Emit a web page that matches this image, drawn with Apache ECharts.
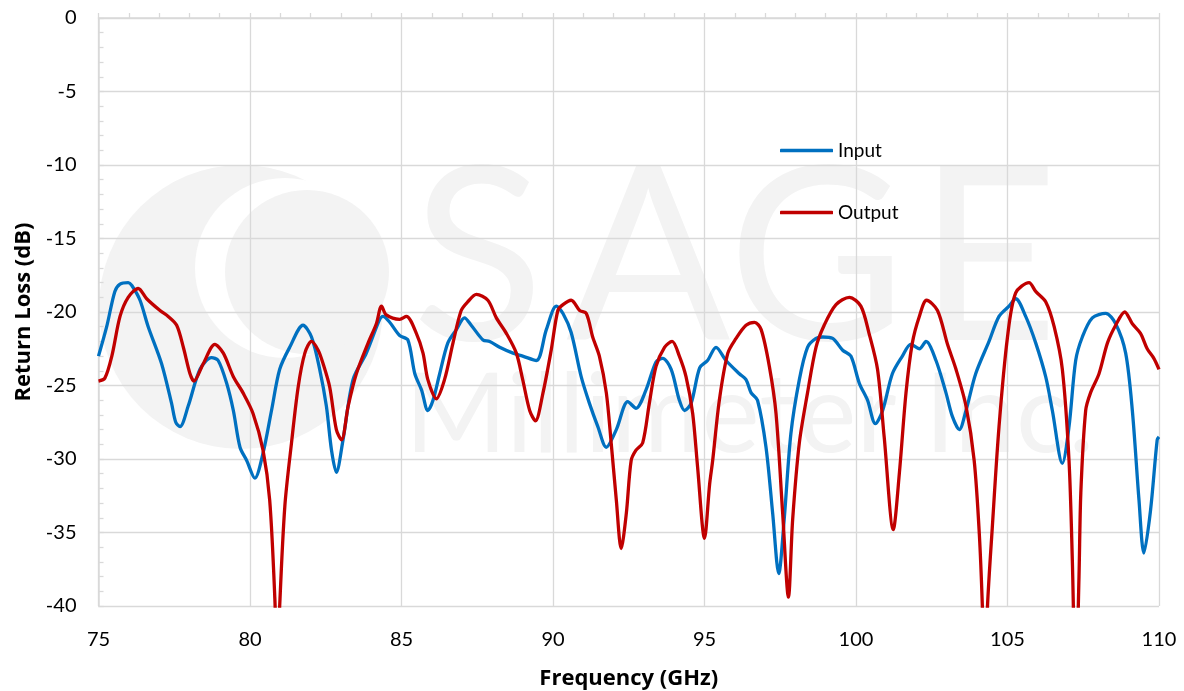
<!DOCTYPE html>
<html>
<head>
<meta charset="utf-8">
<script src="https://cdn.jsdelivr.net/npm/echarts@6/dist/echarts.min.js"></script>
<style>
html,body{margin:0;padding:0;background:#fff;}
#chart{width:1184px;height:691px;}
</style>
</head>
<body>
<div id="chart"></div>
<script>
// ---- Data ----
const xTicks = [75, 80, 85, 90, 95, 100, 105, 110];
const yTicks = [0, -5, -10, -15, -20, -25, -30, -35, -40];

const inputFreq = [75.0,75.27,75.54,75.71,75.98,76.1,76.37,76.64,77.08,77.41,77.55,77.69,77.96,78.35,78.73,78.95,79.23,79.45,79.67,79.89,80.16,80.43,80.71,80.98,81.31,81.75,82.03,82.3,82.52,82.69,82.85,83.07,83.4,83.84,84.28,84.39,84.61,84.94,85.21,85.44,85.66,85.87,86.04,86.26,86.53,86.81,87.08,87.3,87.69,87.91,88.24,88.68,89.0,89.45,89.78,90.11,90.33,90.6,90.93,91.2,91.48,91.76,92.09,92.47,92.74,93.07,93.4,93.62,93.9,94.17,94.34,94.56,94.84,95.1,95.38,95.71,96.15,96.37,96.54,96.75,97.03,97.25,97.45,97.63,97.85,98.13,98.4,98.68,98.9,99.23,99.56,99.83,100.11,100.38,100.64,100.88,101.2,101.53,101.81,102.09,102.31,102.64,102.97,103.18,103.41,103.63,103.95,104.39,104.72,105.05,105.27,105.6,105.93,106.26,106.48,106.81,107.03,107.25,107.47,107.8,108.24,108.57,108.9,109.12,109.34,109.5,109.72,109.94,110.0];
const inputLoss = [-23.0,-21.0,-18.6,-18.1,-18.0,-18.2,-19.2,-21.0,-23.5,-26.2,-27.5,-27.8,-26.4,-23.9,-23.1,-23.3,-24.85,-26.7,-29.2,-30.1,-31.3,-29.6,-26.7,-23.9,-22.4,-20.9,-21.7,-23.9,-26.4,-29.4,-30.9,-28.7,-24.6,-22.8,-20.5,-20.3,-20.7,-21.6,-21.9,-24.2,-25.3,-26.7,-26.0,-24.2,-22.1,-21.2,-20.4,-20.9,-21.9,-22.0,-22.4,-22.8,-23.0,-23.3,-21.2,-19.6,-20.1,-21.4,-24.4,-26.2,-27.8,-29.2,-28.0,-26.1,-26.55,-25.3,-23.4,-23.15,-23.9,-26.0,-26.7,-26.2,-23.8,-23.3,-22.4,-23.3,-24.2,-24.6,-25.5,-26.0,-29.2,-33.7,-37.8,-34.1,-28.3,-24.6,-22.4,-21.8,-21.7,-21.8,-22.6,-23.0,-24.85,-26.0,-27.6,-26.7,-24.2,-23.0,-22.2,-22.5,-22.0,-23.3,-25.5,-27.1,-28.0,-26.7,-24.2,-22.0,-20.3,-19.6,-19.1,-20.3,-22.1,-24.4,-26.7,-30.3,-27.8,-23.3,-21.7,-20.4,-20.1,-20.8,-22.8,-26.7,-32.8,-36.4,-33.5,-28.7,-28.5];

const outputFreq = [75.0,75.21,75.44,75.71,75.98,76.31,76.59,77.03,77.3,77.58,77.8,78.02,78.15,78.46,78.84,79.12,79.45,79.77,80.1,80.43,80.65,80.82,80.9,80.98,81.15,81.37,81.59,81.81,82.03,82.25,82.41,82.63,82.85,83.02,83.24,83.51,83.9,84.17,84.34,84.5,84.94,85.16,85.49,85.71,85.87,86.15,86.42,86.7,86.97,87.19,87.47,87.85,88.13,88.46,88.79,89.0,89.23,89.42,89.67,89.94,90.16,90.33,90.6,90.88,91.1,91.31,91.53,91.76,91.92,92.09,92.25,92.42,92.58,92.74,92.96,93.18,93.4,93.68,93.93,94.17,94.39,94.61,94.77,95.0,95.17,95.27,95.49,95.77,96.04,96.37,96.65,96.87,97.14,97.36,97.58,97.77,97.91,98.13,98.4,98.68,98.95,99.34,99.78,100.16,100.43,100.71,100.93,101.23,101.43,101.65,101.86,102.09,102.33,102.69,103.02,103.3,103.63,103.9,104.07,104.17,104.25,104.34,104.5,104.72,105.0,105.27,105.71,105.93,106.26,106.54,106.81,107.03,107.14,107.25,107.36,107.42,107.58,107.74,108.02,108.3,108.57,108.87,109.12,109.39,109.61,109.83,110.0];
const outputLoss = [-24.7,-24.5,-23.0,-20.3,-19.0,-18.4,-19.1,-19.9,-20.3,-20.9,-22.4,-24.2,-24.7,-23.5,-22.2,-22.8,-24.4,-25.5,-26.9,-29.4,-32.8,-39.5,-45,-40,-33.2,-28.9,-25.1,-22.8,-22.0,-22.6,-23.5,-25.1,-28.0,-28.7,-26.4,-24.2,-22.1,-20.8,-19.6,-20.2,-20.5,-20.3,-21.45,-22.8,-24.6,-25.9,-24.6,-22.1,-19.9,-19.3,-18.8,-19.2,-20.4,-21.45,-22.8,-24.6,-26.7,-27.4,-25.5,-22.6,-19.9,-19.5,-19.2,-19.9,-20.1,-21.7,-23.0,-25.5,-28.9,-32.8,-36.1,-33.7,-30.1,-29.4,-28.9,-26.2,-23.7,-22.4,-22.0,-23.0,-24.4,-26.9,-30.5,-35.4,-31.7,-30.1,-26.0,-22.8,-21.8,-20.9,-20.7,-21.2,-23.7,-26.9,-33.7,-39.4,-34.1,-28.9,-25.5,-22.4,-20.9,-19.5,-19.0,-19.6,-21.45,-23.9,-28.5,-34.8,-31.0,-25.5,-22.1,-20.3,-19.2,-19.9,-22.2,-23.9,-26.4,-30.1,-35.1,-40,-46,-40,-34.6,-27.8,-21.7,-18.7,-18.0,-18.6,-19.3,-21.0,-23.9,-30.1,-36.9,-46,-38,-32.3,-26.7,-25.5,-24.2,-22.1,-20.9,-20.0,-20.8,-21.45,-22.5,-23.15,-23.9];

const seriesNames = ['Input', 'Output'];

// ---- Chart ----
const FONT = 'Lato, "Open Sans", "Noto Sans", sans-serif';
const TFONT = '"Open Sans", Lato, "Noto Sans", sans-serif';
const GRIDC = '#d9d9d9';
const WM = '#f3f3f3';

const chart = echarts.init(document.getElementById('chart'), null, {renderer: 'canvas'});

function zip(xs, ys) { return xs.map((x, i) => [x, ys[i]]); }

const option = {
  animation: false,
  backgroundColor: '#ffffff',
  textStyle: {fontFamily: FONT},
  grid: {left: 98.5, right: 25, top: 18, bottom: 85, containLabel: false, outerBoundsMode: 'none'},
  graphic: [
    {type: 'circle', silent: true, z: -10, shape: {cx: 241, cy: 307, r: 142}, style: {fill: WM}},
    {type: 'circle', silent: true, z: -9, shape: {cx: 285, cy: 268, r: 90}, style: {fill: '#ffffff'}},
    {type: 'circle', silent: true, z: -8, shape: {cx: 307, cy: 272, r: 82}, style: {fill: WM}},
    {type: 'text', silent: true, z: -8, left: 412, top: 140,
      style: {text: 'S', fill: WM, font: 'normal 243px ' + FONT}},
    {type: 'text', silent: true, z: -8, left: 566, top: 140,
      style: {text: 'A', fill: WM, font: 'normal 243px ' + FONT}},
    {type: 'text', silent: true, z: -8, left: 728, top: 140,
      style: {text: 'G', fill: WM, font: 'normal 243px ' + FONT}},
    {type: 'text', silent: true, z: -8, left: 918, top: 140,
      style: {text: 'E', fill: WM, font: 'normal 243px ' + FONT}},
    {type: 'text', silent: true, z: -8, left: 405, top: 362,
      style: {text: 'Millimeter Inc.', fill: WM, font: 'normal 110px ' + FONT}}
  ],
  legend: {
    orient: 'vertical',
    left: 780, top: 141,
    padding: 0,
    icon: 'roundRect',
    itemWidth: 53, itemHeight: 3.5, itemGap: 43,
    data: seriesNames,
    textStyle: {fontSize: 19, color: '#000', fontFamily: FONT}
  },
  xAxis: {
    type: 'value',
    min: xTicks[0], max: xTicks[xTicks.length - 1], interval: 5,
    name: 'Frequency (GHz)', nameLocation: 'middle', nameGap: 62,
    nameTextStyle: {fontSize: 22, fontWeight: 'bold', color: '#000', fontFamily: TFONT},
    axisLine: {show: true, lineStyle: {color: GRIDC, width: 1.5}},
    axisTick: {show: true, inside: true, length: 5, lineStyle: {color: GRIDC, width: 1.3}},
    minorTick: {show: true, splitNumber: 5, length: 5, lineStyle: {color: GRIDC, width: 1.3}},
    splitLine: {show: true, lineStyle: {color: GRIDC, width: 1.3}},
    axisLabel: {fontSize: 20, color: '#000', margin: 24, fontFamily: FONT}
  },
  yAxis: {
    type: 'value',
    min: yTicks[yTicks.length - 1], max: yTicks[0], interval: 5,
    name: 'Return Loss (dB)', nameLocation: 'middle', nameGap: 62,
    nameTextStyle: {fontSize: 22, fontWeight: 'bold', color: '#000', fontFamily: TFONT},
    axisLine: {show: true, lineStyle: {color: GRIDC, width: 1.5}},
    axisTick: {show: true, inside: true, length: 5, lineStyle: {color: GRIDC, width: 1.3}},
    minorTick: {show: true, splitNumber: 5, length: 5, lineStyle: {color: GRIDC, width: 1.3}},
    splitLine: {show: true, lineStyle: {color: GRIDC, width: 1.3}},
    axisLabel: {fontSize: 20, color: '#000', margin: 22, padding: [4, 0, 0, 0], fontFamily: FONT}
  },
  series: [
    {
      name: seriesNames[0], type: 'line', data: zip(inputFreq, inputLoss),
      symbol: 'none', smooth: 0.3, clip: true, z: 3,
      lineStyle: {color: '#0070c0', width: 3.3},
      itemStyle: {color: '#0070c0'}
    },
    {
      name: seriesNames[1], type: 'line', data: zip(outputFreq, outputLoss),
      symbol: 'none', smooth: 0.3, clip: true, z: 4,
      lineStyle: {color: '#c00000', width: 3.3},
      itemStyle: {color: '#c00000'}
    }
  ]
};
chart.setOption(option);
</script>
</body>
</html>
